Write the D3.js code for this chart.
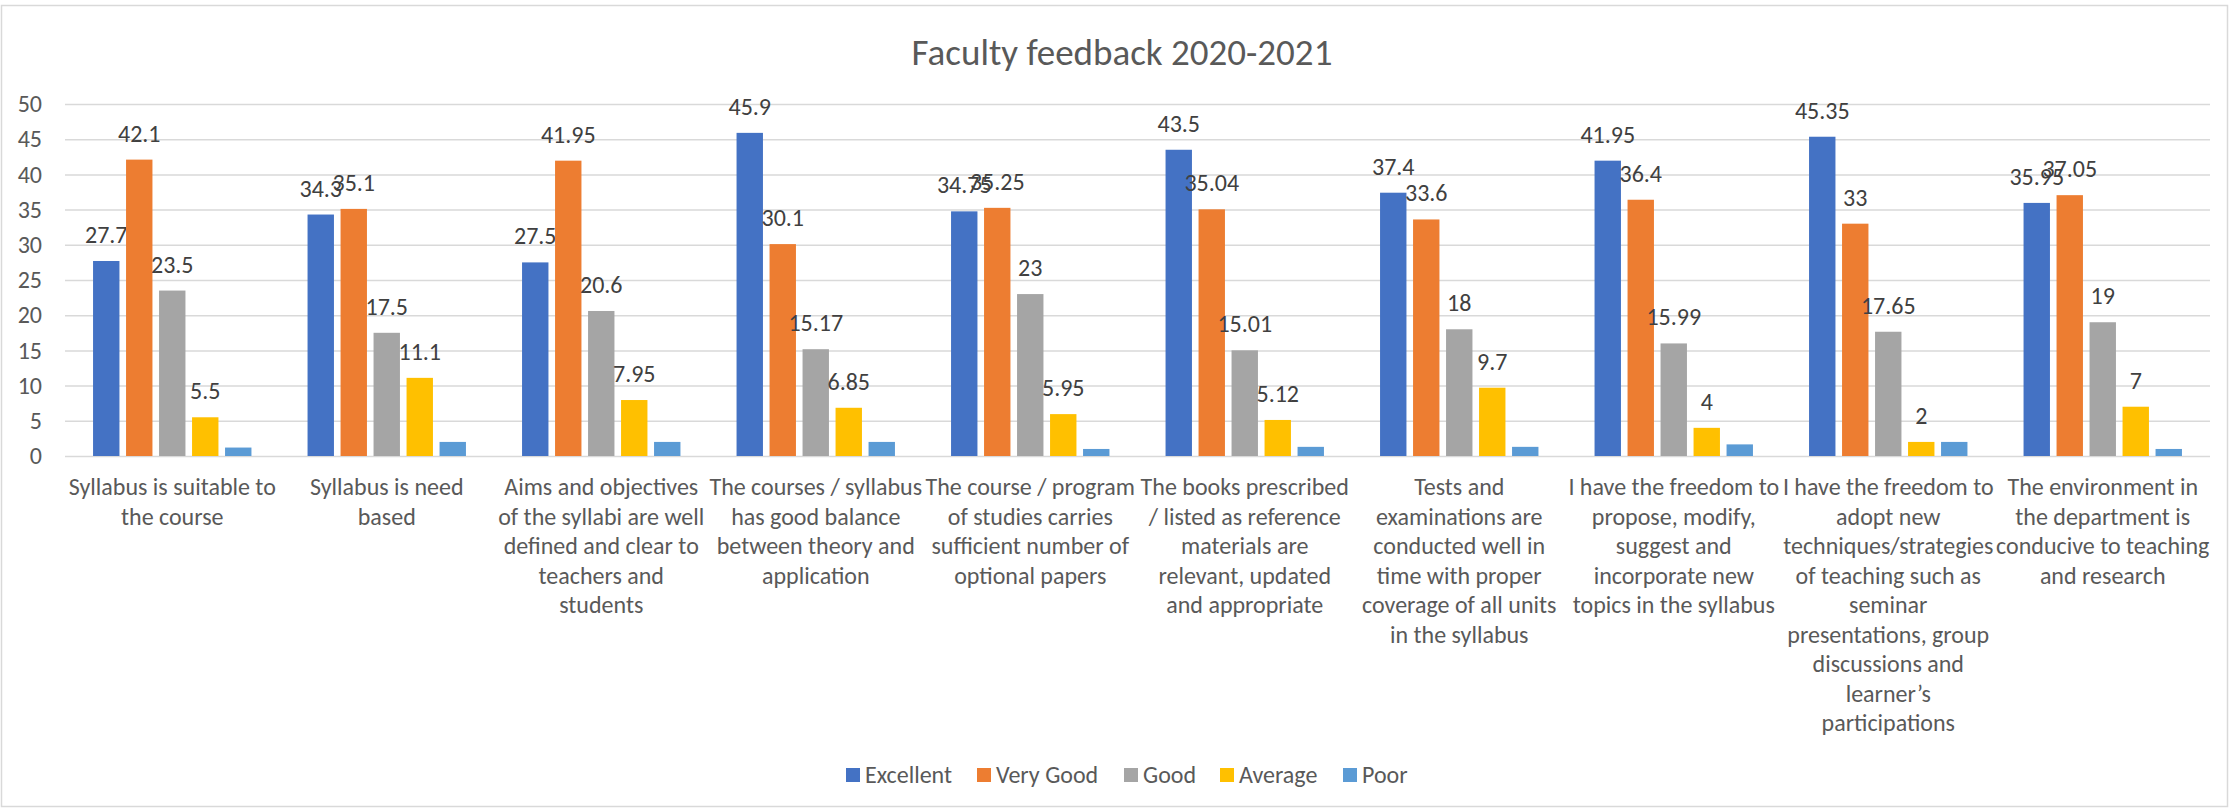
<!DOCTYPE html>
<html>
    <head>
        <meta charset="utf-8">
        <title>Faculty feedback 2020-2021</title>
        <style>
body {
    margin: 0;
    background-color: white;
    font-family: Carlito, 'Liberation Sans Narrow', 'DejaVu Sans Condensed', sans-serif;
}

svg text {
    fill: #595959;
}

.grid line {
    stroke: #d9d9d9;
    stroke-width: 1.5;
}

.value {
    fill: #404040;
    font-size: 24px;
}
</style>
        <script src="https://cdn.jsdelivr.net/npm/d3@7"></script>
    </head>
    <body>
        <script>
var categories = [
    "Syllabus is suitable to\nthe course",
    "Syllabus is need\nbased",
    "Aims and objectives\nof the syllabi are well\ndefined and clear to\nteachers and\nstudents",
    "The courses / syllabus\nhas good balance\nbetween theory and\napplication",
    "The course / program\nof studies carries\nsufficient number of\noptional papers",
    "The books prescribed\n/ listed as reference\nmaterials are\nrelevant, updated\nand appropriate",
    "Tests and\nexaminations are\nconducted well in\ntime with proper\ncoverage of all units\nin the syllabus",
    "I have the freedom to\npropose, modify,\nsuggest and\nincorporate new\ntopics in the syllabus",
    "I have the freedom to\nadopt new\ntechniques/strategies\nof teaching such as\nseminar\npresentations, group\ndiscussions and\nlearner\u2019s\nparticipations",
    "The environment in\nthe department is\nconducive to teaching\nand research"
];

var seriesNames = ["Excellent", "Very Good", "Good", "Average", "Poor"];
var seriesColors = ["#4472c4", "#ed7d31", "#a5a5a5", "#ffc000", "#5b9bd5"];

var excellent = [27.7, 34.3, 27.5, 45.9, 34.75, 43.5, 37.4, 41.95, 45.35, 35.95];
var veryGood = [42.1, 35.1, 41.95, 30.1, 35.25, 35.04, 33.6, 36.4, 33, 37.05];
var good = [23.5, 17.5, 20.6, 15.17, 23, 15.01, 18, 15.99, 17.65, 19];
var average = [5.5, 11.1, 7.95, 6.85, 5.95, 5.12, 9.7, 4, 2, 7];
var poor = [1.2, 2, 2, 2, 1, 1.3, 1.3, 1.65, 2, 1];   // no labels in the original

var yTicks = [0, 5, 10, 15, 20, 25, 30, 35, 40, 45, 50];

var values = [excellent, veryGood, good, average, poor];
var labelled = [true, true, true, true, false];

var width = 2230,
    height = 809;

var plotLeft = 65, plotRight = 2210, plotTop = 104, plotBottom = 456;

var svg = d3.select('body')
    .append('svg')
    .attr('width', width)
    .attr('height', height);

svg.append('rect')
    .attr('x', 1.5)
    .attr('y', 5.5)
    .attr('width', width - 4)
    .attr('height', height - 8)
    .attr('fill', 'white')
    .attr('stroke', '#d9d9d9')
    .attr('stroke-width', 1.5);

var x0 = d3.scaleBand()
    .domain(d3.range(categories.length))
    .range([plotLeft, plotRight]);

var x1 = d3.scaleBand()
    .domain(d3.range(seriesNames.length))
    .range([0, x0.bandwidth()])
    .paddingInner(0.2)
    .paddingOuter(0.85);

var y = d3.scaleLinear()
    .domain([0, 50])
    .range([plotBottom, plotTop]);

// gridlines and value axis
var grid = svg.append('g')
    .attr('class', 'grid')
    .attr('transform', 'translate(' + plotLeft + ',0)')
    .call(d3.axisLeft(y).tickValues(yTicks).tickSize(-(plotRight - plotLeft)).tickFormat(''));
grid.select('.domain').remove();

svg.append('g')
    .attr('transform', 'translate(42,0)')
    .call(d3.axisLeft(y).tickValues(yTicks).tickSize(0))
    .call(function (g) { g.select('.domain').remove(); })
    .attr('font-family', null)
    .attr('font-size', null)
    .selectAll('text')
    .attr('x', 0)
    .style('font-size', '24px')
    .attr('fill', '#595959');

// bars
values.forEach(function (series, s) {
    var g = svg.append('g');

    g.selectAll('rect')
        .data(series)
        .enter()
        .append('rect')
        .attr('x', function (d, i) { return x0(i) + x1(s); })
        .attr('y', function (d) { return y(d); })
        .attr('width', x1.bandwidth())
        .attr('height', function (d) { return y(0) - y(d); })
        .attr('fill', seriesColors[s]);

    if (labelled[s]) {
        g.selectAll('text')
            .data(series)
            .enter()
            .append('text')
            .attr('class', 'value')
            .attr('text-anchor', 'middle')
            .attr('x', function (d, i) { return x0(i) + x1(s) + x1.bandwidth() / 2; })
            .attr('y', function (d) { return y(d) - 18; })
            .text(function (d) { return d; });
    }
});

// category labels
var catLabels = svg.append('g')
    .selectAll('text')
    .data(categories)
    .enter()
    .append('text')
    .attr('text-anchor', 'middle')
    .style('font-size', '24px')
    .attr('x', function (d, i) { return x0(i) + x0.bandwidth() / 2; })
    .attr('y', 495);

catLabels.selectAll('tspan')
    .data(function (d, i) {
        return d.split('\n').map(function (t) { return { t: t, x: x0(i) + x0.bandwidth() / 2 }; });
    })
    .enter()
    .append('tspan')
    .attr('x', function (d) { return d.x; })
    .attr('dy', function (d, j) { return j === 0 ? 0 : 29.5; })
    .text(function (d) { return d.t; });

// title
svg.append('text')
    .attr('x', 1122)
    .attr('y', 65)
    .attr('text-anchor', 'middle')
    .style('font-size', '37px')
    .text('Faculty feedback 2020-2021');

// legend
var legendX = [846, 977, 1124, 1220, 1343];

var legend = svg.append('g')
    .selectAll('g')
    .data(seriesNames)
    .enter()
    .append('g')
    .attr('transform', function (d, i) { return 'translate(' + legendX[i] + ',768)'; });

legend.append('rect')
    .attr('width', 14)
    .attr('height', 14)
    .attr('fill', function (d, i) { return seriesColors[i]; });

legend.append('text')
    .attr('x', 19)
    .attr('y', 15)
    .style('font-size', '24px')
    .text(function (d) { return d; });

        </script>
    </body>
</html>
